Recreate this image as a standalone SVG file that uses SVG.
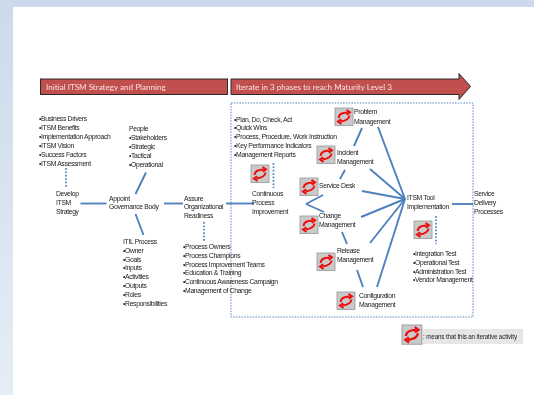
<svg xmlns="http://www.w3.org/2000/svg" width="534" height="395" viewBox="0 0 534 395">
<style>
text{font-family:"Liberation Sans",Arial,sans-serif;font-size:6.800px;letter-spacing:-.33px;fill:#222}
.h{font-family:Lato,"Liberation Sans",sans-serif;font-size:8.100px;letter-spacing:0;fill:#f8e2e2}
.c line{stroke:#4f81bd;stroke-width:1.900;fill:none}
.d{stroke:#4f81bd;stroke-width:1.700;stroke-dasharray:1.700 1.700;fill:none}
.b{stroke:#4f81bd;stroke-width:.9;stroke-dasharray:1.600 1.200;fill:none}
</style>
<defs>
<linearGradient id="g" x1="0" y1="0" x2="0" y2="1"><stop offset="0" stop-color="#cddaeb"/><stop offset="1" stop-color="#e6edf6"/></linearGradient>
<filter id="s" x="0" y="0" width="100%" height="100%"><feGaussianBlur stdDeviation=".3"/></filter>
<g id="i">
<rect x="0" y="0" width="18" height="17.500" fill="#c9c9c9" stroke="#a0a0a0" stroke-width=".9"/>
<path d="M3.500 10C4 6 8.500 4.500 12.500 4.500M11.500 2L15 4.300 11.800 6.800M14.500 7.500C14 11.500 9.500 13 5.500 13.500M6.500 16L3 13.500 6.200 11.200" fill="none" stroke="#f00808" stroke-width="2"/>
</g>
</defs>
<rect width="534" height="395" fill="#fff"/>
<rect width="13" height="395" fill="url(#g)"/>
<rect x="13" width="521" height="7" fill="#cddaeb"/>
<g filter="url(#s)">
<g id="banner1"><rect x="40.500" y="79" width="187" height="15.500" fill="#c0504d" stroke="#2a2a2a" stroke-width="1"/><text class="h" x="46" y="90">Initial ITSM Strategy and Planning</text></g>
<g id="banner2"><path d="M231 79H459V73.500L470.500 86.500 459 99.500V94.500H231Z" fill="#c0504d" stroke="#2a2a2a" stroke-width="1"/><text class="h" x="236" y="90">Iterate in 3 phases to reach Maturity Level 3</text></g>
<rect id="phase-box" class="b" x="231" y="103" width="242" height="214"/>
<g id="connectors" class="c">
<line x1="80.500" y1="203.500" x2="106.500" y2="203.500"/>
<line x1="146" y1="172.500" x2="135.500" y2="194"/>
<line x1="135.500" y1="214" x2="143.500" y2="235"/>
<line x1="164" y1="203.500" x2="183" y2="203.500"/>
<line x1="226" y1="203.500" x2="254" y2="203.500"/>
<line x1="362" y1="128" x2="354" y2="146"/>
<line x1="345" y1="170" x2="340" y2="179"/>
<line x1="323" y1="195" x2="306" y2="204"/>
<line x1="306" y1="204" x2="324" y2="212"/>
<line x1="342" y1="232" x2="347" y2="244"/>
<line x1="357" y1="270" x2="363" y2="287"/>
<line x1="378" y1="127" x2="405" y2="199"/>
<line x1="370" y1="169" x2="405" y2="199"/>
<line x1="362" y1="191" x2="405" y2="199"/>
<line x1="361" y1="217" x2="405" y2="199"/>
<line x1="370" y1="243" x2="405" y2="199"/>
<line x1="377" y1="287" x2="405" y2="199"/>
<line x1="452" y1="204" x2="473" y2="204"/>
<path class="d" d="M66 168V187M204 222V241M273.500 163V188M436 216V244"/>
</g>
<g id="business"><text x="39" y="121">•Business Drivers</text><text x="39" y="130">•ITSM Benefits</text><text x="39" y="139">•Implementation Approach</text><text x="39" y="148">•ITSM Vision</text><text x="39" y="157">•Success Factors</text><text x="39" y="166">•ITSM Assessment</text></g>
<g id="people"><text x="129" y="131">People</text><text x="129" y="140">•Stakeholders</text><text x="129" y="149">•Strategic</text><text x="129" y="158">•Tactical</text><text x="129" y="167">•Operational</text></g>
<g id="develop"><text x="56" y="196">Develop</text><text x="56" y="205">ITSM</text><text x="56" y="214">Strategy</text></g>
<g id="appoint"><text x="109" y="201">Appoint</text><text x="109" y="209">Governance Body</text></g>
<g id="assure"><text x="184" y="201">Assure</text><text x="184" y="209">Organizational</text><text x="184" y="218">Readiness</text></g>
<g id="itil"><text x="123" y="244">ITIL Process</text><text x="123" y="253">•Owner</text><text x="123" y="262">•Goals</text><text x="123" y="270">•Inputs</text><text x="123" y="279">•Activities</text><text x="123" y="288">•Outputs</text><text x="123" y="297">•Roles</text><text x="123" y="306">•Responsibilities</text></g>
<g id="readiness"><text x="183" y="249">•Process Owners</text><text x="183" y="258">•Process Champions</text><text x="183" y="267">•Process Improvement Teams</text><text x="183" y="275">•Education &amp; Training</text><text x="183" y="284">•Continuous Awareness Campaign</text><text x="183" y="293">•Management of Change</text></g>
<g id="pdca"><text x="234" y="122">•Plan, Do, Check, Act</text><text x="234" y="130">•Quick Wins</text><text x="234" y="139">•Process, Procedure, Work Instruction</text><text x="234" y="148">•Key Performance Indicators</text><text x="234" y="157">•Management Reports</text></g>
<g id="cpi"><use href="#i" x="251" y="165"/><text x="252" y="196">Continuous</text><text x="252" y="205">Process</text><text x="252" y="214">Improvement</text></g>
<g id="problem"><use href="#i" x="335" y="108"/><text x="354" y="114">Problem</text><text x="354" y="124">Management</text></g>
<g id="incident"><use href="#i" x="317" y="146"/><text x="337" y="155">Incident</text><text x="337" y="164">Management</text></g>
<g id="service-desk"><use href="#i" x="300" y="178"/><text x="319" y="188">Service Desk</text></g>
<g id="change"><use href="#i" x="300" y="216"/><text x="319" y="218">Change</text><text x="319" y="227">Management</text></g>
<g id="release"><use href="#i" x="317" y="253"/><text x="337" y="253">Release</text><text x="337" y="262">Management</text></g>
<g id="config"><use href="#i" x="337" y="292"/><text x="359" y="298">Configuration</text><text x="359" y="307">Management</text></g>
<g id="tool"><use href="#i" x="414" y="221"/><text x="407" y="200">ITSM Tool</text><text x="407" y="209">Implementation</text></g>
<g id="tests"><text x="413" y="256">•Integration Test</text><text x="413" y="265">•Operational Test</text><text x="413" y="274">•Administration Test</text><text x="413" y="282">•Vendor Management</text></g>
<g id="delivery"><text x="474" y="196">Service</text><text x="474" y="205">Delivery</text><text x="474" y="214">Processes</text></g>
<g id="legend"><rect x="422" y="329" width="101" height="15" fill="#e6e6e6"/><use href="#i" transform="translate(402 325) scale(1.100)"/><text x="423" y="339" style="font-size:6.300px;letter-spacing:-.15px">: means that this an iterative activity</text></g>
</g>
</svg>
